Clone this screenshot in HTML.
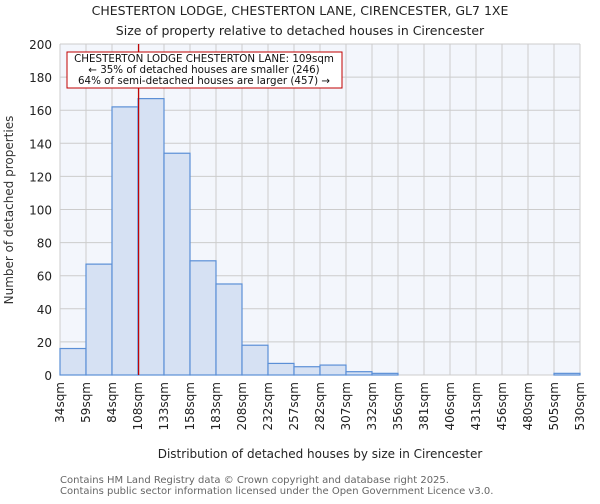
<!DOCTYPE html>
<html><head><meta charset="utf-8"><style>
body{margin:0;background:#fff;width:600px;height:500px;overflow:hidden;font-family:"DejaVu Sans","Liberation Sans",sans-serif}
svg text{font-family:"DejaVu Sans","Liberation Sans",sans-serif}
</style></head><body>
<svg id="chart" width="600" height="500" xmlns="http://www.w3.org/2000/svg">
<text x="300" y="15" text-anchor="middle" font-size="12.5" fill="#222">CHESTERTON LODGE, CHESTERTON LANE, CIRENCESTER, GL7 1XE</text>
<text x="300" y="35" text-anchor="middle" font-size="12.5" fill="#222">Size of property relative to detached houses in Cirencester</text>
<rect x="60" y="44" width="520" height="331" fill="#f3f6fc"/>
<g id="grid"></g>
<g id="bars"></g>
<g id="yticks"></g>
<g id="xticks"></g>
<line id="marker" y1="44" y2="375" stroke="#c00000" stroke-width="1.2"/>
<rect x="67" y="52" width="275" height="36" fill="#fff" stroke="#c00000" stroke-width="1"/>
<text x="204" y="62" text-anchor="middle" font-size="10.3" fill="#111">CHESTERTON LODGE CHESTERTON LANE: 109sqm</text>
<text x="204" y="73" text-anchor="middle" font-size="10.3" fill="#111">← 35% of detached houses are smaller (246)</text>
<text x="204" y="84" text-anchor="middle" font-size="10.3" fill="#111">64% of semi-detached houses are larger (457) →</text>
<text transform="translate(13,210) rotate(-90)" text-anchor="middle" font-size="12" fill="#333">Number of detached properties</text>
<text x="320" y="458" text-anchor="middle" font-size="12" fill="#222">Distribution of detached houses by size in Cirencester</text>
<text x="60" y="483" font-size="10" fill="#666">Contains HM Land Registry data © Crown copyright and database right 2025.</text>
<text x="60" y="494" font-size="10" fill="#666">Contains public sector information licensed under the Open Government Licence v3.0.</text>
</svg>
<script>
const binLabels=["34sqm","59sqm","84sqm","108sqm","133sqm","158sqm","183sqm","208sqm","232sqm","257sqm","282sqm","307sqm","332sqm","356sqm","381sqm","406sqm","431sqm","456sqm","480sqm","505sqm","530sqm"];
const counts=[16,67,162,167,134,69,55,18,7,5,6,2,1,0,0,0,0,0,0,1];
const yTicks=[0,20,40,60,80,100,120,140,160,180,200];
const propertySize=109;
const binStart=34, binWidth=24.8;
const NS="http://www.w3.org/2000/svg";
const X0=60,X1=580,Y0=375,Y1=44,YMAX=200;
const n=counts.length;
const xb=i=>X0+(X1-X0)*i/n;
const xv=v=>X0+(X1-X0)*(v-binStart)/(binWidth*n);
const y=v=>Y0-(Y0-Y1)*v/YMAX;
function mk(t,a,p){const e=document.createElementNS(NS,t);for(const k in a)e.setAttribute(k,a[k]);p.appendChild(e);return e;}
const grid=document.getElementById('grid'),bars=document.getElementById('bars'),yt=document.getElementById('yticks'),xt=document.getElementById('xticks');
yTicks.forEach(v=>{
 const l=mk('line',{x1:X0,x2:X1,y1:y(v),y2:y(v),stroke:'#cccccc','stroke-width':1},grid);
 
 
 const t=mk('text',{x:52,y:y(v)+5,'text-anchor':'end','font-size':12,fill:'#222'},yt);
 t.textContent=v;
 
 
});
binLabels.forEach((s,i)=>{
 const l=mk('line',{x1:xb(i),x2:xb(i),y1:Y1,y2:Y0,stroke:'#cccccc','stroke-width':1},grid);
 
 
 const t=mk('text',{transform:`translate(${xb(i)+4},382) rotate(-90)`,'text-anchor':'end','font-size':12,fill:'#222'},xt);
 t.textContent=s;
 
 
});
counts.forEach((c,i)=>{
 if(c<=0)return;
 const r=mk('rect',{x:xb(i),y:y(c),width:xb(i+1)-xb(i),height:Y0-y(c),fill:'#d6e1f3',stroke:'#5b8fd6','stroke-width':1.2},bars);
 
 
});
const m=document.getElementById('marker');
m.setAttribute('x1',xv(propertySize));m.setAttribute('x2',xv(propertySize));
</script>
</body></html>
